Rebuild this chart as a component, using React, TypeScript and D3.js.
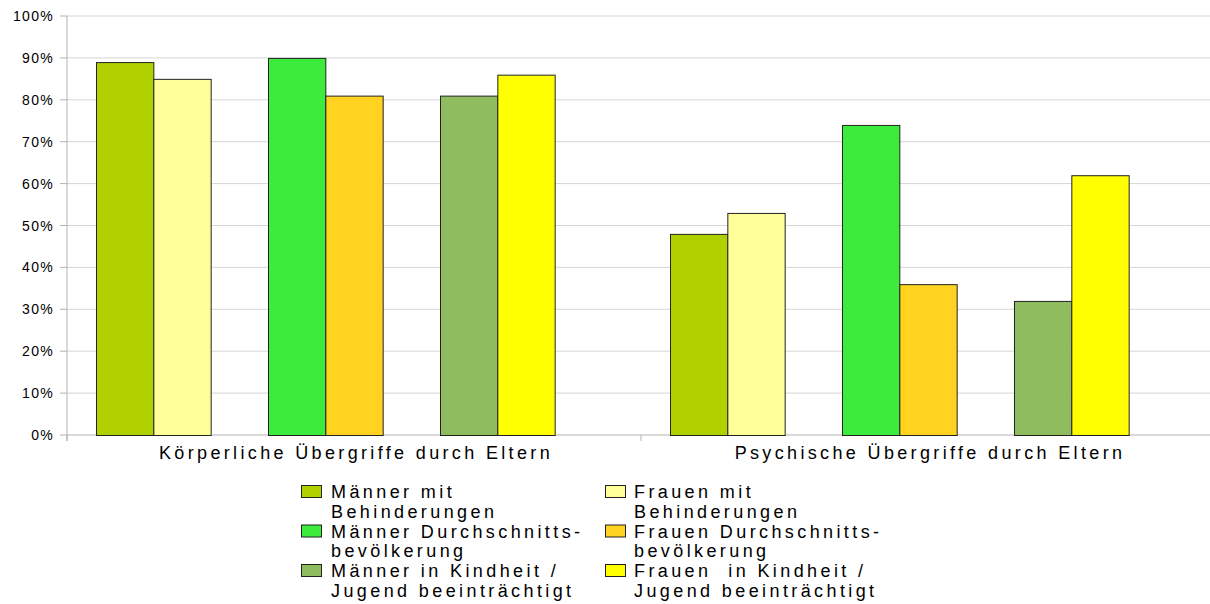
import React from "react";
import * as d3 from "d3";

const categories = ["Körperliche Übergriffe durch Eltern", "Psychische Übergriffe durch Eltern"];
const seriesNames = [
  ["Männer mit", "Behinderungen"],
  ["Frauen mit", "Behinderungen"],
  ["Männer Durchschnitts-", "bevölkerung"],
  ["Frauen Durchschnitts-", "bevölkerung"],
  ["Männer in Kindheit /", "Jugend beeinträchtigt"],
  ["Frauen  in Kindheit /", "Jugend beeinträchtigt"],
];
const seriesColors = ["#b0d000", "#ffff99", "#3deb3d", "#ffd320", "#8fbc5e", "#ffff00"];
const koerperlich = [0.89, 0.85, 0.90, 0.81, 0.81, 0.86];
const psychisch = [0.48, 0.53, 0.74, 0.36, 0.32, 0.62];
const values = [koerperlich, psychisch];
const yTicks = [0, 0.1, 0.2, 0.3, 0.4, 0.5, 0.6, 0.7, 0.8, 0.9, 1.0];

const W = 1210;
const H = 604;
const plotLeft = 67;
const plotRight = 1215;
const plotTop = 16;
const plotBottom = 435;
const FONT = "'Liberation Sans', Arial, sans-serif";

export default function App() {
  const x0 = d3.scaleBand<string>().domain(categories).range([plotLeft, plotRight]).padding(0);
  const bw = x0.bandwidth();
  const slotKeys = d3.range(9).map(String);
  const x1 = d3.scaleBand<string>().domain(slotKeys).range([29, bw - 29]).padding(0);
  const slotOf = (i: number) => String(Math.floor(i / 2) * 3 + (i % 2));
  const y = d3.scaleLinear().domain([0, 1]).range([plotBottom, plotTop]);
  const fmt = d3.format(".0%");

  return (
    <svg width={W} height={H} style={{ position: "absolute", left: 0, top: 0, background: "#fff" }} fontFamily={FONT}>
      {yTicks.map((t) => (
        <g key={t}>
          <line x1={plotLeft} x2={plotRight} y1={y(t)} y2={y(t)} stroke={t === 0 ? "#b3b3b3" : "#d6d6d6"} strokeWidth={1} />
          <line x1={plotLeft - 7} x2={plotLeft} y1={y(t)} y2={y(t)} stroke="#b3b3b3" strokeWidth={1} />
          <text x={54} y={y(t) + 5} textAnchor="end" fontSize={14} letterSpacing={1.3} fill="#000">
            {fmt(t)}
          </text>
        </g>
      ))}
      <line x1={plotLeft} x2={plotLeft} y1={plotTop} y2={plotBottom + 6} stroke="#b3b3b3" strokeWidth={1} />
      {[...categories.map((c) => x0(c) as number), plotRight].map((xx, i) => (
        <line key={i} x1={xx} x2={xx} y1={plotBottom} y2={plotBottom + 6} stroke="#b3b3b3" strokeWidth={1} />
      ))}
      {categories.map((c, ci) => (
        <g key={c} transform={`translate(${x0(c)},0)`}>
          {values[ci].map((v, si) => (
            <rect
              key={si}
              x={(x1(slotOf(si)) as number) + 0.5}
              y={y(v) + 0.5}
              width={x1.bandwidth()}
              height={y(0) - y(v)}
              fill={seriesColors[si]}
              stroke="#222"
              strokeWidth={1}
            />
          ))}
        </g>
      ))}
      {categories.map((c) => (
        <text
          key={c}
          x={(x0(c) as number) + bw / 2 + 2}
          y={459}
          textAnchor="middle"
          fontSize={18}
          letterSpacing={3.35}
          fill="#000"
        >
          {c}
        </text>
      ))}
      {seriesNames.map((lines, i) => {
        const col = i % 2;
        const row = Math.floor(i / 2);
        const sx = col === 0 ? 301 : 605;
        const tx = col === 0 ? 331 : 634;
        const base = 498 + row * 39.5;
        return (
          <g key={i}>
            <rect x={sx + 0.5} y={base - 13 + 0.5} width={20} height={12} fill={seriesColors[i]} stroke="#222" strokeWidth={1} />
            {lines.map((ln, li) => (
              <text key={li} x={tx} y={base + li * 19.5} fontSize={18} letterSpacing={3.4} fill="#000" style={{ whiteSpace: "pre" }}>
                {ln}
              </text>
            ))}
          </g>
        );
      })}
    </svg>
  );
}
